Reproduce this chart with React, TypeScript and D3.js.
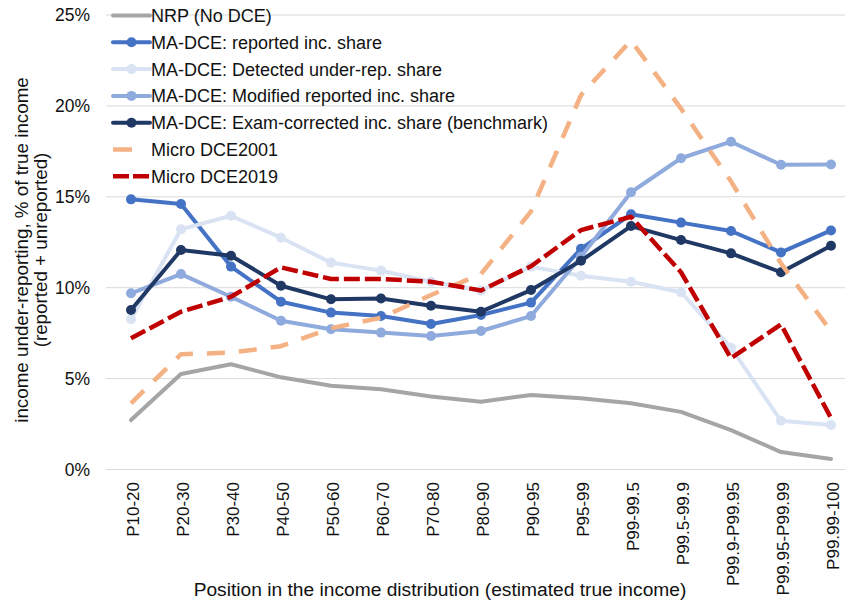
import React from "react";
import * as d3 from "d3";

const categories = [
  "P10-20", "P20-30", "P30-40", "P40-50", "P50-60", "P60-70", "P70-80", "P80-90",
  "P90-95", "P95-99", "P99-99.5", "P99.5-99.9", "P99.9-P99.95", "P99.95-P99.99", "P99.99-100",
];

const nrpNoDce = [2.72, 5.25, 5.79, 5.07, 4.61, 4.41, 4.01, 3.73, 4.10, 3.92, 3.64, 3.17, 2.17, 0.96, 0.58];
const maReported = [14.86, 14.60, 11.16, 9.23, 8.63, 8.44, 8.0, 8.5, 9.18, 12.14, 14.04, 13.58, 13.12, 11.94, 13.15];
const maDetected = [8.26, 13.21, 13.96, 12.75, 11.38, 10.94, 10.33, 9.84, 11.16, 10.66, 10.33, 9.75, 6.70, 2.68, 2.45];
const maModified = [9.69, 10.75, 9.5, 8.18, 7.71, 7.53, 7.34, 7.62, 8.44, 11.7, 15.25, 17.12, 18.03, 16.76, 16.78];
const maExam = [8.77, 12.07, 11.76, 10.11, 9.36, 9.41, 9.01, 8.68, 9.87, 11.48, 13.39, 12.62, 11.89, 10.85, 12.31];
const micro2001 = [3.64, 6.34, 6.43, 6.78, 7.77, 8.35, 9.6, 10.75, 14.2, 20.6, 23.6, 19.85, 15.85, 11.34, 7.6];
const micro2019 = [7.22, 8.68, 9.5, 11.12, 10.48, 10.48, 10.33, 9.85, 11.18, 13.17, 13.9, 10.85, 6.12, 7.98, 2.83];

const yTicks = [0, 5, 10, 15, 20, 25];

const seriesNames = [
  "NRP (No DCE)",
  "MA-DCE: reported inc. share",
  "MA-DCE: Detected under-rep. share",
  "MA-DCE: Modified reported inc. share",
  "MA-DCE: Exam-corrected inc. share (benchmark)",
  "Micro DCE2001",
  "Micro DCE2019",
];
const seriesValues = [nrpNoDce, maReported, maDetected, maModified, maExam, micro2001, micro2019];

const styles = [
  { color: "#A5A5A5", width: 4, dash: null, marker: false },
  { color: "#4472C4", width: 4, dash: null, marker: true },
  { color: "#DAE3F3", width: 4, dash: null, marker: true },
  { color: "#8FAADC", width: 4, dash: null, marker: true },
  { color: "#203864", width: 4, dash: null, marker: true },
  { color: "#F4B183", width: 4.5, dash: "18 14", marker: false },
  { color: "#C00000", width: 4.5, dash: "16 5", marker: false },
];

const FONT = "'Liberation Sans', Arial, sans-serif";

export default function App() {
  const W = 845;
  const H = 603;
  const x = d3.scaleBand<string>().domain(categories).range([106, 856]);
  const y = d3.scaleLinear().domain([0, 25]).range([469.5, 15]);
  const cx = (c: string) => (x(c) as number) + x.bandwidth() / 2;

  const line = d3
    .line<number>()
    .x((_, i) => cx(categories[i]))
    .y((v) => y(v));

  const legendX0 = 113;
  const legendX1 = 150;
  const legendY0 = 15.5;
  const legendStep = 26.8;

  return (
    <svg
      width={W}
      height={H}
      style={{ position: "absolute", left: 0, top: 0, background: "#fff" }}
      fontFamily={FONT}
    >
      <rect x={0} y={0} width={W} height={H} fill="#fff" />
      {yTicks.map((t) => (
        <line key={"g" + t} x1={106} x2={856} y1={y(t)} y2={y(t)} stroke="#D9D9D9" strokeWidth={1} />
      ))}
      {yTicks.map((t) => (
        <text key={"t" + t} x={90} y={y(t)} dy="0.36em" textAnchor="end" fontSize={17.5} fill="#111">
          {t + "%"}
        </text>
      ))}
      {categories.map((c) => (
        <text
          key={c}
          transform={`translate(${cx(c) + 8},482) rotate(-90)`}
          textAnchor="end"
          fontSize={17}
          fill="#111"
        >
          {c}
        </text>
      ))}
      <text x={440} y={596} textAnchor="middle" fontSize={19.2} fill="#111">
        Position in the income distribution (estimated true income)
      </text>
      <g transform="translate(28,250) rotate(-90)">
        <text x={0} y={0} textAnchor="middle" fontSize={18.8} fill="#111">
          income under-reporting, % of true income
        </text>
        <text x={0} y={18.5} textAnchor="middle" fontSize={18.8} fill="#111">
          (reported + unreported)
        </text>
      </g>
      {seriesValues.map((vals, si) => {
        const s = styles[si];
        return (
          <g key={"s" + si}>
            <path
              d={line(vals) || ""}
              fill="none"
              stroke={s.color}
              strokeWidth={s.width}
              strokeDasharray={s.dash || undefined}
              strokeLinejoin="round"
              strokeLinecap={s.dash ? "butt" : "round"}
            />
            {s.marker &&
              vals.map((v, i) => (
                <circle key={i} cx={cx(categories[i])} cy={y(v)} r={5} fill={s.color} />
              ))}
          </g>
        );
      })}
      {seriesNames.map((name, si) => {
        const s = styles[si];
        const ly = legendY0 + si * legendStep;
        const end = si === 5 ? 132 : legendX1;
        return (
          <g key={"l" + si}>
            <line
              x1={legendX0}
              x2={end}
              y1={ly}
              y2={ly}
              stroke={s.color}
              strokeWidth={s.width}
              strokeDasharray={si === 6 ? "16 4" : undefined}
              strokeLinecap={s.dash ? "butt" : "round"}
            />
            {s.marker && <circle cx={(legendX0 + legendX1) / 2} cy={ly} r={5} fill={s.color} />}
            <text x={151} y={ly} dy="0.36em" fontSize={18} fill="#111">
              {name}
            </text>
          </g>
        );
      })}
    </svg>
  );
}
